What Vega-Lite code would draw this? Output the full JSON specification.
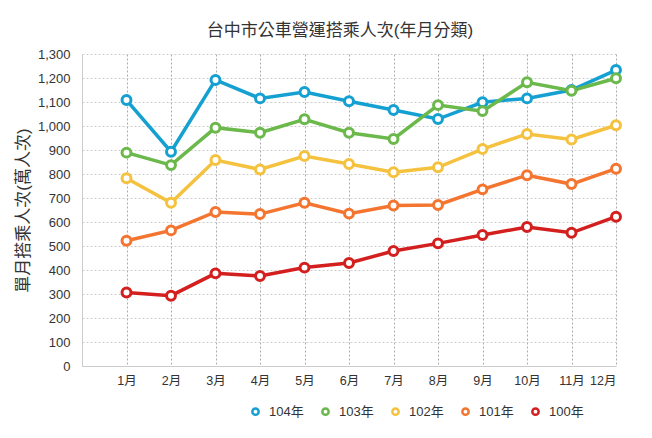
{
  "$schema": "https://vega.github.io/schema/vega-lite/v6.json",
  "width": 534,
  "height": 312,
  "autosize": {"type": "none"},
  "padding": {"left": 82, "top": 54, "right": 36, "bottom": 72},
  "background": "white",
  "title": {
    "text": "台中市公車營運搭乘人次(年月分類)",
    "fontSize": 17,
    "font": "Liberation Sans, Noto Sans CJK TC",
    "fontWeight": "normal",
    "color": "#333333",
    "anchor": "middle",
    "dx": -9,
    "offset": 8
  },
  "config": {
    "font": "Liberation Sans, Noto Sans CJK TC",
    "view": {"stroke": null}
  },
  "data": {
    "values": [
      {"year": "104年", "month": 1, "value": 1108}, {"year": "104年", "month": 2, "value": 893}, {"year": "104年", "month": 3, "value": 1192}, {"year": "104年", "month": 4, "value": 1115}, {"year": "104年", "month": 5, "value": 1142}, {"year": "104年", "month": 6, "value": 1103}, {"year": "104年", "month": 7, "value": 1067}, {"year": "104年", "month": 8, "value": 1029}, {"year": "104年", "month": 9, "value": 1099}, {"year": "104年", "month": 10, "value": 1115}, {"year": "104年", "month": 11, "value": 1150}, {"year": "104年", "month": 12, "value": 1233},
      {"year": "103年", "month": 1, "value": 889}, {"year": "103年", "month": 2, "value": 837}, {"year": "103年", "month": 3, "value": 993}, {"year": "103年", "month": 4, "value": 972}, {"year": "103年", "month": 5, "value": 1028}, {"year": "103年", "month": 6, "value": 972}, {"year": "103年", "month": 7, "value": 946}, {"year": "103年", "month": 8, "value": 1087}, {"year": "103年", "month": 9, "value": 1062}, {"year": "103年", "month": 10, "value": 1182}, {"year": "103年", "month": 11, "value": 1147}, {"year": "103年", "month": 12, "value": 1199},
      {"year": "102年", "month": 1, "value": 782}, {"year": "102年", "month": 2, "value": 680}, {"year": "102年", "month": 3, "value": 858}, {"year": "102年", "month": 4, "value": 819}, {"year": "102年", "month": 5, "value": 875}, {"year": "102年", "month": 6, "value": 842}, {"year": "102年", "month": 7, "value": 807}, {"year": "102年", "month": 8, "value": 828}, {"year": "102年", "month": 9, "value": 904}, {"year": "102年", "month": 10, "value": 967}, {"year": "102年", "month": 11, "value": 944}, {"year": "102年", "month": 12, "value": 1003},
      {"year": "101年", "month": 1, "value": 522}, {"year": "101年", "month": 2, "value": 565}, {"year": "101年", "month": 3, "value": 642}, {"year": "101年", "month": 4, "value": 633}, {"year": "101年", "month": 5, "value": 680}, {"year": "101年", "month": 6, "value": 635}, {"year": "101年", "month": 7, "value": 669}, {"year": "101年", "month": 8, "value": 671}, {"year": "101年", "month": 9, "value": 736}, {"year": "101年", "month": 10, "value": 795}, {"year": "101年", "month": 11, "value": 758}, {"year": "101年", "month": 12, "value": 822},
      {"year": "100年", "month": 1, "value": 306}, {"year": "100年", "month": 2, "value": 293}, {"year": "100年", "month": 3, "value": 386}, {"year": "100年", "month": 4, "value": 375}, {"year": "100年", "month": 5, "value": 410}, {"year": "100年", "month": 6, "value": 429}, {"year": "100年", "month": 7, "value": 479}, {"year": "100年", "month": 8, "value": 511}, {"year": "100年", "month": 9, "value": 546}, {"year": "100年", "month": 10, "value": 579}, {"year": "100年", "month": 11, "value": 555}, {"year": "100年", "month": 12, "value": 622}
    ]
  },
  "mark": {
    "type": "line",
    "strokeWidth": 3.5,
    "point": {"filled": false, "fill": "white", "size": 80, "strokeWidth": 3, "opacity": 1}
  },
  "encoding": {
    "x": {
      "field": "month",
      "type": "quantitative",
      "scale": {"domain": [0, 12], "nice": false, "zero": true},
      "axis": {
        "title": null,
        "values": [1, 2, 3, 4, 5, 6, 7, 8, 9, 10, 11, 12],
        "labelExpr": "datum.value + '月'",
        "labelFontSize": 12.5,
        "labelColor": "#333333",
        "labelPadding": 8,
        "ticks": false,
        "domainColor": "#cccccc",
        "grid": true,
        "gridDash": [2, 2],
        "gridColor": "#aaaaaa",
        "gridWidth": 1
      }
    },
    "y": {
      "field": "value",
      "type": "quantitative",
      "scale": {"domain": [0, 1300], "nice": false},
      "axis": {
        "title": "單月搭乘人次(萬人次)",
        "titleFontSize": 17,
        "titleFontWeight": "normal",
        "titleColor": "#333333",
        "titlePadding": 5,
        "values": [0, 100, 200, 300, 400, 500, 600, 700, 800, 900, 1000, 1100, 1200, 1300],
        "format": ",d",
        "labelFontSize": 13,
        "labelColor": "#333333",
        "labelPadding": 12,
        "ticks": false,
        "domain": true,
        "domainColor": "#cccccc",
        "grid": true,
        "gridDash": [2, 2],
        "gridColor": "#cccccc",
        "gridWidth": 1
      }
    },
    "color": {
      "field": "year",
      "type": "nominal",
      "sort": ["104年", "103年", "102年", "101年", "100年"],
      "scale": {
        "domain": ["104年", "103年", "102年", "101年", "100年"],
        "range": ["#15a0d2", "#6bb84b", "#f5c23f", "#f47530", "#d41f1f"]
      },
      "legend": {
        "title": null,
        "orient": "none",
        "legendX": 167,
        "legendY": 351,
        "direction": "horizontal",
        "symbolType": "circle",
        "symbolSize": 40,
        "symbolStrokeWidth": 2.5,
        "symbolFillColor": "white",
        "labelFontSize": 13,
        "labelColor": "#333333",
        "columnPadding": 13,
        "labelOffset": 7
      }
    }
  }
}
